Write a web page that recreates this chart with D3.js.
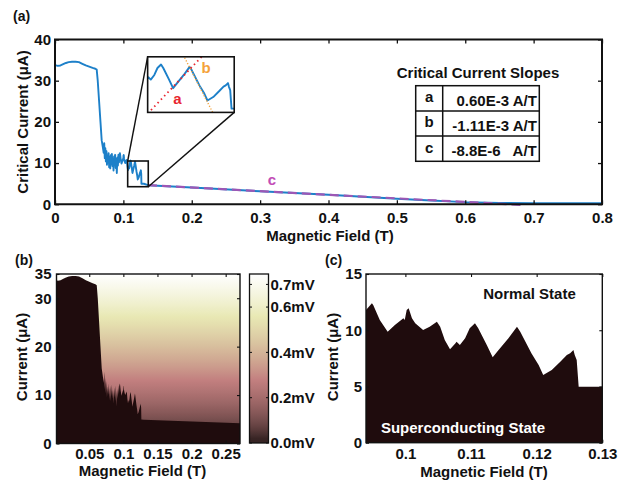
<!DOCTYPE html>
<html>
<head>
<meta charset="utf-8">
<script src="https://cdn.jsdelivr.net/npm/d3@7"></script>
<style>
  body { margin: 0; background: #fff; }
  svg { display: block; }
  text { font-family: "Liberation Sans", Arial, Helvetica, sans-serif; font-weight: bold; fill: #111; }
</style>
</head>
<body>
<svg id="fig" width="628" height="481"></svg>
<script>
// ---- critical-current sweep, field in T, current in µA ----
const sweepField = [
  0.000, 0.004, 0.008, 0.012, 0.016, 0.020, 0.025, 0.030, 0.035, 0.040, 0.045, 0.050, 0.055, 0.059, 0.061,
  0.0625, 0.0645, 0.0665, 0.0683, 0.0700, 0.0712,
  0.0720, 0.0728, 0.0736, 0.0744, 0.0752, 0.0760, 0.0768, 0.0776, 0.0784, 0.0792, 0.0800, 0.0808, 0.0816, 0.0824,
  0.0832, 0.0840, 0.0848, 0.0856, 0.0864, 0.0872, 0.0880, 0.0888, 0.0896, 0.0904, 0.0912, 0.0920, 0.0928, 0.0936,
  0.0940, 0.0949, 0.0951, 0.0961, 0.0973, 0.0984, 0.0997, 0.0999, 0.1002, 0.1005,
  0.1010, 0.1015, 0.1027, 0.1037, 0.1048, 0.1053, 0.1060, 0.1068, 0.1076, 0.1078,
  0.1083, 0.1091, 0.1098, 0.1106, 0.1111, 0.1124, 0.1133, 0.1142, 0.1157, 0.1170,
  0.1175, 0.1192, 0.1203, 0.1210, 0.1223, 0.1236, 0.1246, 0.1251, 0.1256, 0.1258,
  0.1261, 0.1264, 0.1300,
  0.136, 0.200, 0.300, 0.400, 0.500, 0.550, 0.600, 0.650, 0.700, 0.800
];
const sweepIc = [
  33.8, 33.6, 33.7, 34.0, 34.3, 34.5, 34.6, 34.6, 34.5, 34.1, 33.7, 33.4, 33.1, 32.9, 32.7,
  30.0, 25.0, 20.0, 15.5, 13.8, 12.5,
  14.8, 11.2, 13.6, 10.4, 12.9, 9.6, 11.8, 10.1, 12.4, 9.0, 11.5, 8.7, 11.9, 9.8,
  12.2, 9.3, 11.0, 8.2, 11.6, 9.5, 12.0, 8.8, 10.9, 7.6, 11.3, 9.4, 12.0, 10.2,
  11.80, 12.39, 12.24, 10.91, 9.87, 10.47, 11.06, 10.91, 11.80, 11.95,
  11.06, 10.61, 10.02, 10.31, 10.76, 10.31, 9.13, 8.30, 8.83, 8.98,
  8.69, 9.28, 10.17, 10.61, 10.17, 8.69, 7.59, 8.24, 9.28, 10.31,
  9.87, 7.95, 6.91, 6.02, 6.46, 7.20, 7.80, 7.95, 8.24, 7.80,
  7.35, 4.98, 4.98,
  4.62, 4.05, 3.15, 2.30, 1.35, 0.90, 0.52, 0.33, 0.26, 0.25
];
// high-field edge of the voltage map
const mapTailField = [0.130, 0.271];
const mapTailIc = [4.90, 4.20];

// fitted slopes
const slopeNames = ["a", "b", "c"];
const slopeText = ["0.60E-3", "-1.11E-3", "-8.8E-6"];
const slopeUnitGap = [" ", " ", "   "];
const slopeAperT = [0.60e-3, -1.11e-3, -8.8e-6];
const slopeAnchorField = [0.11378, 0.11898, 0.3045];
const slopeAnchorIc = [8.05, 8.05, 3.15];
const slopeCSpan = [0.136, 0.687];

// tick values
const ticksAx = [0, 0.1, 0.2, 0.3, 0.4, 0.5, 0.6, 0.7, 0.8];
const ticksAy = [0, 10, 20, 30, 40];
const ticksBx = [0.05, 0.1, 0.15, 0.2, 0.25];
const ticksBy = [0, 10, 20, 30, 35];
const ticksCx = [0.1, 0.11, 0.12, 0.13];
const ticksCy = [0, 5, 10, 15];
const colorbarTicks = [0.0, 0.2, 0.4, 0.6, 0.7];

// normal-state resistance (mV per µA) and colour range (mV)
const normalResistance = 0.0213;
const voltageMax = 0.746;

// zoom window and inset placement (data units of panel a)
const zoomWindow = { field: [0.1063, 0.1364], ic: [4.26, 10.5] };
const insetPlace = { field: [0.1355, 0.2621], ic: [22.3, 35.8] };
const insetDomain = { field: [0.1076, 0.127], ic: [4.5, 11.6] };

// ---- styles ----
const BLUE = "#1d80c9";
const SC_FILL = "#1f0c0d";
const FS = 15;

const svg = d3.select("#fig");
const defs = svg.append("defs");

// MATLAB-style "pink" colour map
function pinkMap(t) {
  t = Math.max(0, Math.min(1, t));
  const clamp = v => Math.max(0, Math.min(1, v));
  const hot = [Math.min(1, t / 0.375), clamp((t - 0.375) / 0.375), clamp((t - 0.75) / 0.25)];
  const c = hot.map(h => Math.round(255 * Math.sqrt((2 * t + h) / 3)));
  return d3.rgb(c[0], c[1], c[2]).formatHex();
}
const colorScale = v => pinkMap(Math.max(v / voltageMax, 0.03));

const sweep = sweepField.map((f, i) => [f, sweepIc[i]]);

// boxed frame with inward ticks on all four sides
function frame(g, x, y, xt, yt, opt) {
  const [xl, xr] = x.range();
  const [yb, yt0] = y.range();
  const len = opt.len;
  const styleTicks = a => {
    a.select(".domain").remove();
    a.selectAll("line").attr("stroke", "#111").attr("stroke-width", opt.tw);
    a.selectAll("text").attr("font-size", FS).attr("fill", "#111").attr("font-family", null);
  };
  g.append("g").attr("transform", `translate(0,${yb})`)
    .call(d3.axisBottom(x).tickValues(xt).tickSize(-len).tickPadding(opt.xpad).tickFormat(opt.xfmt))
    .call(styleTicks);
  g.append("g").attr("transform", `translate(0,${yt0})`)
    .call(d3.axisTop(x).tickValues(xt).tickSize(-len).tickFormat(""))
    .call(styleTicks);
  g.append("g").attr("transform", `translate(${xl},0)`)
    .call(d3.axisLeft(y).tickValues(yt).tickSize(-len).tickPadding(opt.ypad).tickFormat(opt.yfmt))
    .call(styleTicks);
  g.append("g").attr("transform", `translate(${xr},0)`)
    .call(d3.axisRight(y).tickValues(yt).tickSize(-len).tickFormat(""))
    .call(styleTicks);
  g.append("rect").attr("x", xl).attr("y", yt0).attr("width", xr - xl).attr("height", yb - yt0)
    .attr("fill", "none").attr("stroke", "#111").attr("stroke-width", opt.bw);
}

function clip(id, x, y) {
  const [xl, xr] = x.range(), [yb, yt] = y.range();
  defs.append("clipPath").attr("id", id).append("rect")
    .attr("x", xl).attr("y", yt).attr("width", xr - xl).attr("height", yb - yt);
  return `url(#${id})`;
}

const fmtTrim = d => d === 0 ? "0" : String(+d.toFixed(3));

// ================= panel (a) =================
const xA = d3.scaleLinear().domain([0, 0.8]).range([55, 602]);
const yA = d3.scaleLinear().domain([0, 40]).range([204.25, 39.5]);
const gA = svg.append("g");

gA.append("text").attr("x", 13).attr("y", 21).attr("font-size", 14).text("(a)");

const lineA = d3.line().x(d => xA(d[0])).y(d => yA(d[1]));
gA.append("path").datum(sweep).attr("d", lineA).attr("fill", "none")
  .attr("stroke", BLUE).attr("stroke-width", 1.9).attr("stroke-linejoin", "round")
  .attr("clip-path", clip("clipA", xA, yA));

// slope c over the high-field tail
const sC = slopeAperT[2] * 1e6;
const lineC = slopeCSpan.map(f => [f, slopeAnchorIc[2] + sC * (f - slopeAnchorField[2])]);
gA.append("path").datum(lineC).attr("d", lineA).attr("fill", "none")
  .attr("stroke", "#9d57b5").attr("stroke-width", 2.2).attr("stroke-dasharray", "9,5");
gA.append("text").attr("x", 272).attr("y", 185).attr("text-anchor", "middle")
  .attr("font-size", FS).style("fill", "#c24db6").text(slopeNames[2]);

frame(gA, xA, yA, ticksAx, ticksAy, { len: 4, xpad: 8.5, ypad: 4, tw: 1.3, bw: 2,
  xfmt: fmtTrim, yfmt: d => String(d) });

// zoom window + connectors
gA.append("rect")
  .attr("x", xA(zoomWindow.field[0])).attr("y", yA(zoomWindow.ic[1]))
  .attr("width", xA(zoomWindow.field[1]) - xA(zoomWindow.field[0]))
  .attr("height", yA(zoomWindow.ic[0]) - yA(zoomWindow.ic[1]))
  .attr("fill", "none").attr("stroke", "#111").attr("stroke-width", 1.6);
gA.append("line")
  .attr("x1", xA(zoomWindow.field[0])).attr("y1", yA(zoomWindow.ic[1]))
  .attr("x2", xA(insetPlace.field[0])).attr("y2", yA(insetPlace.ic[1]))
  .attr("stroke", "#111").attr("stroke-width", 1.4);
gA.append("line")
  .attr("x1", xA(zoomWindow.field[1])).attr("y1", yA(zoomWindow.ic[0]))
  .attr("x2", xA(insetPlace.field[1])).attr("y2", yA(insetPlace.ic[0]))
  .attr("stroke", "#111").attr("stroke-width", 1.4);

// inset
const xI = d3.scaleLinear().domain(insetDomain.field).range([xA(insetPlace.field[0]), xA(insetPlace.field[1])]);
const yI = d3.scaleLinear().domain(insetDomain.ic).range([yA(insetPlace.ic[0]), yA(insetPlace.ic[1])]);
gA.append("rect").attr("x", xI.range()[0]).attr("y", yI.range()[1])
  .attr("width", xI.range()[1] - xI.range()[0]).attr("height", yI.range()[0] - yI.range()[1])
  .attr("fill", "#fff");
const clipI = clip("clipI", xI, yI);
const lineI = d3.line().x(d => xI(d[0])).y(d => yI(d[1]));
gA.append("path").datum(sweep).attr("d", lineI).attr("fill", "none")
  .attr("stroke", BLUE).attr("stroke-width", 1.9).attr("stroke-linejoin", "round").attr("clip-path", clipI);
const slopeStyles = [
  { color: "#e8262f", dash: "1.6,3.2", w: 1.8 },
  { color: "#f4a23a", dash: "1.2,1.8", w: 1.4 }
];
[0, 1].forEach(i => {
  const s = slopeAperT[i] * 1e6;
  const pts = insetDomain.field.map(f => [f, slopeAnchorIc[i] + s * (f - slopeAnchorField[i])]);
  gA.append("path").datum(pts).attr("d", lineI).attr("fill", "none")
    .attr("stroke", slopeStyles[i].color).attr("stroke-width", slopeStyles[i].w)
    .attr("stroke-dasharray", slopeStyles[i].dash).attr("clip-path", clipI);
});
gA.append("text").attr("x", 177.5).attr("y", 104).attr("text-anchor", "middle").attr("font-size", FS)
  .style("fill", "#e8262f").text(slopeNames[0]);
gA.append("text").attr("x", 206).attr("y", 73.3).attr("text-anchor", "middle").attr("font-size", FS)
  .style("fill", "#f4a23a").text(slopeNames[1]);
gA.append("rect").attr("x", xI.range()[0]).attr("y", yI.range()[1])
  .attr("width", xI.range()[1] - xI.range()[0]).attr("height", yI.range()[0] - yI.range()[1])
  .attr("fill", "none").attr("stroke", "#111").attr("stroke-width", 1.6);

// slope table
const tbl = { x0: 415.7, xm: 442.7, x1: 539.3, y0: 85.7, rh: 25.2 };
gA.append("text").attr("x", 478).attr("y", 77.5).attr("text-anchor", "middle").attr("font-size", FS)
  .text("Critical Current Slopes");
gA.append("rect").attr("x", tbl.x0).attr("y", tbl.y0).attr("width", tbl.x1 - tbl.x0)
  .attr("height", tbl.rh * slopeNames.length).attr("fill", "#fff").attr("stroke", "#111").attr("stroke-width", 1.5);
gA.append("line").attr("x1", tbl.xm).attr("x2", tbl.xm).attr("y1", tbl.y0)
  .attr("y2", tbl.y0 + tbl.rh * slopeNames.length).attr("stroke", "#111").attr("stroke-width", 1.5);
slopeNames.forEach((n, i) => {
  const top = tbl.y0 + i * tbl.rh;
  if (i > 0) gA.append("line").attr("x1", tbl.x0).attr("x2", tbl.x1).attr("y1", top).attr("y2", top)
    .attr("stroke", "#111").attr("stroke-width", 1.5);
  gA.append("text").attr("x", (tbl.x0 + tbl.xm) / 2).attr("y", top + 16.5).attr("text-anchor", "middle")
    .attr("font-size", FS).text(n);
  gA.append("text").attr("x", tbl.x1 - 2.5).attr("y", top + 20).attr("text-anchor", "end")
    .attr("font-size", FS).style("white-space", "pre").attr("xml:space", "preserve")
    .text(slopeText[i] + slopeUnitGap[i] + "A/T");
});

// axis titles
gA.append("text").attr("x", 330).attr("y", 240.5).attr("text-anchor", "middle").attr("font-size", FS)
  .text("Magnetic Field (T)");
gA.append("text").attr("transform", "translate(27.5,122) rotate(-90)").attr("text-anchor", "middle")
  .attr("font-size", FS).text("Critical Current (\u03bcA)");

// ================= panel (b) =================
const xB = d3.scaleLinear().domain([0.002, 0.271]).range([56.5, 240]);
const yB = d3.scaleLinear().domain([0, 35]).range([443.5, 274]);
const gB = svg.append("g");
gB.append("text").attr("x", 15).attr("y", 265).attr("font-size", 14).text("(b)");

// normal-state voltage V = R·I, shown through the colour map
const mapCurrents = d3.range(0, 35.01, 0.5);
const gradMap = defs.append("linearGradient").attr("id", "gradMap")
  .attr("gradientUnits", "userSpaceOnUse").attr("x1", 0).attr("x2", 0)
  .attr("y1", yB(0)).attr("y2", yB(35));
gradMap.selectAll("stop").data(mapCurrents).join("stop")
  .attr("offset", d => d / 35).attr("stop-color", d => colorScale(d * normalResistance));
gB.append("rect").attr("x", xB.range()[0]).attr("y", yB.range()[1])
  .attr("width", xB.range()[1] - xB.range()[0]).attr("height", yB.range()[0] - yB.range()[1])
  .attr("fill", "url(#gradMap)");

const mapEdge = sweep.filter(d => d[0] < 0.13).concat(mapTailField.map((f, i) => [f, mapTailIc[i]]));
const areaB = d3.area().x(d => xB(d[0])).y0(yB(0)).y1(d => yB(d[1]));
gB.append("path").datum(mapEdge).attr("d", areaB).attr("fill", SC_FILL)
  .attr("clip-path", clip("clipB", xB, yB));

frame(gB, xB, yB, ticksBx, ticksBy, { len: 3, xpad: 5, ypad: 5, tw: 1.1, bw: 1.4,
  xfmt: fmtTrim, yfmt: d => String(d) });

gB.append("text").attr("x", 142.5).attr("y", 476).attr("text-anchor", "middle").attr("font-size", FS)
  .text("Magnetic Field (T)");
gB.append("text").attr("transform", "translate(27,357) rotate(-90)").attr("text-anchor", "middle")
  .attr("font-size", FS).text("Current (\u03bcA)");

// colour bar
const yCb = d3.scaleLinear().domain([0, voltageMax]).range([443, 274]);
const cbX = [249.5, 268.5];
const cbVolts = d3.range(0, voltageMax + 0.0001, voltageMax / 40);
const gradCb = defs.append("linearGradient").attr("id", "gradCb")
  .attr("gradientUnits", "userSpaceOnUse").attr("x1", 0).attr("x2", 0)
  .attr("y1", yCb(0)).attr("y2", yCb(voltageMax));
gradCb.selectAll("stop").data(cbVolts).join("stop")
  .attr("offset", d => d / voltageMax).attr("stop-color", d => colorScale(d));
gB.append("rect").attr("x", cbX[0]).attr("y", yCb(voltageMax)).attr("width", cbX[1] - cbX[0])
  .attr("height", yCb(0) - yCb(voltageMax)).attr("fill", "url(#gradCb)")
  .attr("stroke", "#111").attr("stroke-width", 1.3);
colorbarTicks.forEach(v => {
  gB.append("line").attr("x1", cbX[0]).attr("x2", cbX[0] + 2.5).attr("y1", yCb(v)).attr("y2", yCb(v))
    .attr("stroke", "#111").attr("stroke-width", 1);
  gB.append("line").attr("x1", cbX[1] - 2.5).attr("x2", cbX[1]).attr("y1", yCb(v)).attr("y2", yCb(v))
    .attr("stroke", "#111").attr("stroke-width", 1);
  gB.append("text").attr("x", 270.5).attr("y", yCb(v)).attr("dy", "0.36em").attr("font-size", FS)
    .text(v.toFixed(1) + "mV");
});

// ================= panel (c) =================
const xCc = d3.scaleLinear().domain([0.094, 0.13]).range([366, 602.3]);
const yCc = d3.scaleLinear().domain([0, 15]).range([442.7, 274]);
const gC = svg.append("g");
gC.append("text").attr("x", 325).attr("y", 265).attr("font-size", 14).text("(c)");

gC.append("rect").attr("x", xCc.range()[0]).attr("y", yCc.range()[1])
  .attr("width", xCc.range()[1] - xCc.range()[0]).attr("height", yCc.range()[0] - yCc.range()[1])
  .attr("fill", "#fff");
const areaC = d3.area().x(d => xCc(d[0])).y0(yCc(0)).y1(d => yCc(d[1]));
gC.append("path").datum(sweep.filter(d => d[0] >= 0.09 && d[0] <= 0.14)).attr("d", areaC)
  .attr("fill", SC_FILL).attr("clip-path", clip("clipC", xCc, yCc));

frame(gC, xCc, yCc, ticksCx, ticksCy, { len: 3, xpad: 6, ypad: 4, tw: 1.1, bw: 1.4,
  xfmt: fmtTrim, yfmt: d => String(d) });

gC.append("text").attr("x", 529.5).attr("y", 299).attr("text-anchor", "middle").attr("font-size", FS)
  .text("Normal State");
gC.append("text").attr("x", 463).attr("y", 432.5).attr("text-anchor", "middle").attr("font-size", FS)
  .style("fill", "#fff").text("Superconducting State");
gC.append("text").attr("x", 484).attr("y", 476.5).attr("text-anchor", "middle").attr("font-size", FS)
  .text("Magnetic Field (T)");
gC.append("text").attr("transform", "translate(338,357) rotate(-90)").attr("text-anchor", "middle")
  .attr("font-size", FS).text("Current (\u03bcA)");
</script>
</body>
</html>
